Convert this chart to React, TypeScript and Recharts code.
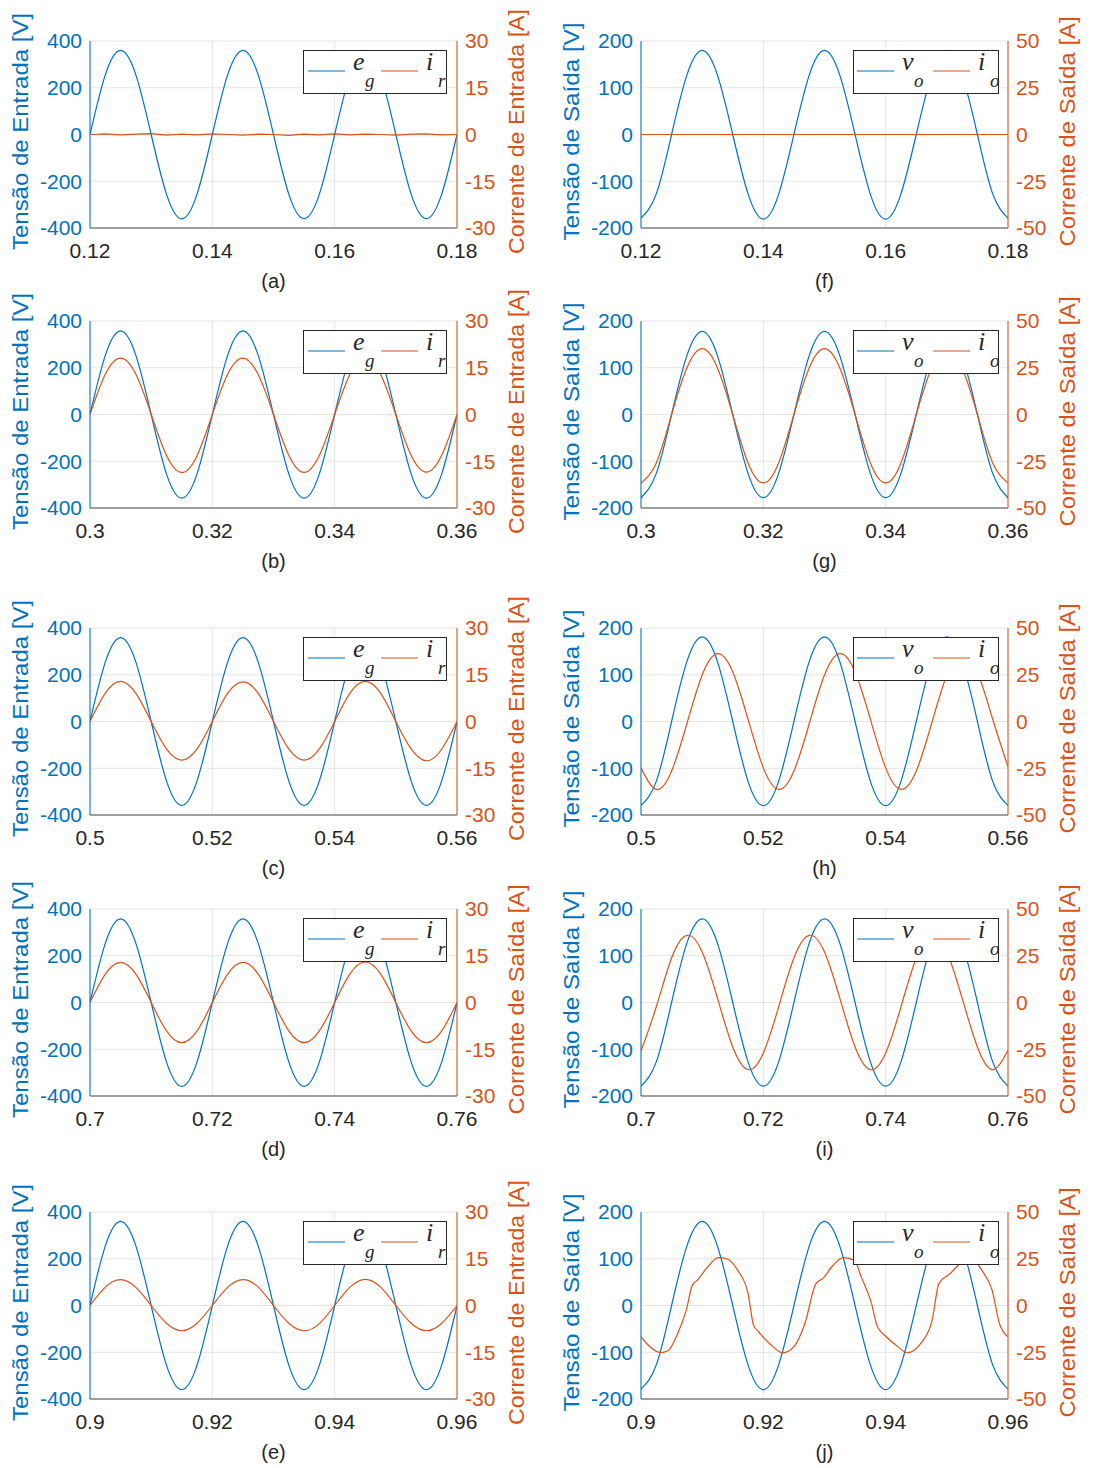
import React from 'react';
import { LineChart, Line, XAxis, YAxis, CartesianGrid, Legend } from 'recharts';

const BLUE = '#0072BD';
const ORANGE = '#D95319';
const INK = '#262626';
const FONT = '"Liberation Sans", Arial, Helvetica, sans-serif';
const SERIF = '"Liberation Serif", "Times New Roman", serif';

// sampling instants inside each 60 ms window (s)
const OFFSETS = [
  0, 0.0025, 0.005, 0.0075, 0.01, 0.0125, 0.015, 0.0175, 0.02, 0.0225, 0.025, 0.0275, 0.03,
  0.0325, 0.035, 0.0375, 0.04, 0.0425, 0.045, 0.0475, 0.05, 0.0525, 0.055, 0.0575, 0.06,
];

const X_TICKS = [
  [0.12, 0.14, 0.16, 0.18],
  [0.3, 0.32, 0.34, 0.36],
  [0.5, 0.52, 0.54, 0.56],
  [0.7, 0.72, 0.74, 0.76],
  [0.9, 0.92, 0.94, 0.96],
];
const IN_V_TICKS = [-400, -200, 0, 200, 400];
const IN_I_TICKS = [-30, -15, 0, 15, 30];
const OUT_V_TICKS = [-200, -100, 0, 100, 200];
const OUT_I_TICKS = [-50, -25, 0, 25, 50];

// input side: grid voltage e_g [V] and rectifier current i_r [A]
const egA = [0, 255, 360, 255, 0, -255, -361, -255, 0, 255, 360, 255, 0, -255, -360, -255, 0, 255, 360, 255, 0, -255, -360, -255, 0];
const irA = [0, 0.2, -0.1, 0.1, 0.3, -0.2, 0.1, -0.1, 0.2, 0, -0.2, 0.1, 0, -0.3, 0.1, -0.1, 0.2, -0.1, 0.1, 0, -0.2, 0.1, 0.2, -0.1, 0];
const egB = [0, 253, 358, 253, 0, -254, -358, -254, 0, 253, 358, 253, 0, -254, -358, -254, 0, 253, 358, 253, 0, -254, -358, -254, 0];
const irB = [0, 12.9, 18.1, 12.9, 0.1, -13.1, -18.6, -13.2, 0, 12.9, 18.1, 12.8, 0, -13.1, -18.6, -13.1, 0, 12.9, 18.2, 12.9, 0, -13.1, -18.5, -13.1, 0];
const egC = [0, 254, 359, 254, 0, -254, -359, -254, 0, 254, 359, 254, 0, -254, -359, -254, 0, 254, 359, 254, 0, -254, -359, -254, 0];
const irC = [0, 9.1, 12.9, 9.0, 0, -8.8, -12.4, -8.8, 0, 9.0, 12.7, 9.0, 0, -8.8, -12.4, -8.8, 0, 9.1, 12.9, 9.1, 0, -8.8, -12.6, -8.9, 0];
const egD = [0, 253, 358, 253, 0, -254, -359, -254, 0, 253, 358, 253, 0, -254, -359, -254, 0, 253, 358, 253, 0, -254, -359, -254, 0];
const irD = [0, 9.1, 12.9, 9.1, 0, -9.1, -12.9, -9.1, 0, 9.1, 12.9, 9.1, 0, -9.1, -12.9, -9.1, 0, 9.2, 13.0, 9.2, 0, -9.1, -12.9, -9.1, 0];
const egE = [0, 255, 360, 255, 0, -255, -360, -255, 0, 255, 360, 255, 0, -255, -360, -255, 0, 255, 360, 255, 0, -255, -360, -255, 0];
const irE = [0, 5.9, 8.3, 5.8, 0, -5.7, -8.1, -5.7, 0, 5.8, 8.3, 5.9, 0, -5.7, -8.1, -5.8, 0, 5.9, 8.4, 5.9, 0, -5.7, -8.1, -5.7, 0];

// output side: load voltage v_o [V] and load current i_o [A]
const voF = [-179, -127, 0, 127, 180, 127, 0, -127, -181, -128, 0, 127, 180, 127, 0, -128, -181, -127, 0, 127, 180, 127, 0, -127, -179];
const ioF = [0, 0, 0, 0, 0, 0, 0, 0, 0, 0, 0, 0, 0, 0, 0, 0, 0, 0, 0, 0, 0, 0, 0, 0, 0];
const voG = [-178, -126, 0, 126, 178, 126, 0, -126, -178, -126, 0, 126, 178, 126, 0, -126, -178, -126, 0, 126, 178, 126, 0, -126, -178];
const ioG = [-36.6, -25.9, 0, 24.9, 35.2, 24.9, 0, -25.9, -36.6, -25.9, 0, 24.9, 35.2, 24.9, 0, -25.9, -36.6, -25.9, 0, 24.9, 35.2, 24.9, 0, -25.9, -36.6];
const voH = [-180, -128, 0, 128, 181, 128, 0, -128, -180, -128, 0, 128, 181, 128, 0, -128, -180, -128, 0, 128, 181, 128, 0, -128, -180];
const ioH = [-24.8, -36.3, -26.5, -1.2, 24.9, 36.3, 26.5, 1.2, -24.8, -36.3, -26.5, -1.2, 24.9, 36.3, 26.5, 1.2, -24.8, -36.3, -26.5, -1.2, 24.9, 36.3, 26.5, 1.2, -24.2];
const voI = [-179, -127, 0, 127, 179, 127, 0, -127, -179, -127, 0, 127, 179, 127, 0, -127, -179, -127, 0, 127, 179, 127, 0, -127, -179];
const ioI = [-26, -2.3, 23.8, 35.9, 27, 2.3, -23.8, -35.9, -27, -2.3, 23.8, 35.9, 27, 2.3, -23.8, -35.9, -27, -2.3, 23.8, 35.9, 27, 2.3, -23.8, -35.9, -25.5];
const voJ = [-179, -127, 0, 127, 180, 127, 0, -127, -180, -127, 0, 127, 180, 127, 0, -127, -180, -127, 0, 127, 180, 127, 0, -127, -179];
// distorted load current, sampled at its own instants
const ioJTime = [
  0.9, 0.9016, 0.9032, 0.9044, 0.906, 0.9074, 0.9084, 0.9092, 0.9107, 0.9127, 0.914, 0.9158, 0.9175,
  0.9184, 0.9192, 0.921, 0.9232, 0.925, 0.9268, 0.9286, 0.9297, 0.9314, 0.9331, 0.9349, 0.936,
  0.9377, 0.9386, 0.9401, 0.942, 0.9435, 0.9458, 0.9476, 0.9487, 0.9505, 0.9528, 0.954, 0.9557,
  0.9574, 0.9586, 0.96,
];
const ioJ = [
  -16.7, -22.5, -25.2, -24.2, -15, -2.5, 10.9, 13.5, 19.8, 25.6, 25, 18.9, 6.4, -10.5, -14, -20.3,
  -25.3, -22, -9.6, 11.7, 14.4, 21.5, 25.6, 24.2, 15.3, 1, -10.9, -16.7, -22, -25.3, -20, -7.8, 11.7,
  17, 24, 25.5, 18.9, 8.2, -9.6, -16.7,
];

const IN_V_TITLE = 'Tensão de Entrada [V]';
const OUT_V_TITLE = 'Tensão de Saída [V]';
const IN_I_TITLE = 'Corrente de Entrada [A]';
const OUT_I_TITLE = 'Corrente de Saída [A]';

type PanelDef = {
  label: string;
  row: number;
  col: number;
  v: number[];
  i: number[];
  iTime?: number[];
  iCurve?: 'natural' | 'linear' | 'monotone';
  vName: string;
  iName: string;
  iTitle: string;
};

const PANELS: PanelDef[] = [
  { label: '(a)', row: 0, col: 0, v: egA, i: irA, iCurve: 'linear', vName: 'e|g', iName: 'i|r', iTitle: IN_I_TITLE },
  { label: '(b)', row: 1, col: 0, v: egB, i: irB, vName: 'e|g', iName: 'i|r', iTitle: IN_I_TITLE },
  { label: '(c)', row: 2, col: 0, v: egC, i: irC, vName: 'e|g', iName: 'i|r', iTitle: IN_I_TITLE },
  { label: '(d)', row: 3, col: 0, v: egD, i: irD, vName: 'e|g', iName: 'i|r', iTitle: OUT_I_TITLE },
  { label: '(e)', row: 4, col: 0, v: egE, i: irE, vName: 'e|g', iName: 'i|r', iTitle: IN_I_TITLE },
  { label: '(f)', row: 0, col: 1, v: voF, i: ioF, iCurve: 'linear', vName: 'v|o', iName: 'i|o', iTitle: OUT_I_TITLE },
  { label: '(g)', row: 1, col: 1, v: voG, i: ioG, vName: 'v|o', iName: 'i|o', iTitle: OUT_I_TITLE },
  { label: '(h)', row: 2, col: 1, v: voH, i: ioH, vName: 'v|o', iName: 'i|o', iTitle: OUT_I_TITLE },
  { label: '(i)', row: 3, col: 1, v: voI, i: ioI, vName: 'v|o', iName: 'i|o', iTitle: OUT_I_TITLE },
  { label: '(j)', row: 4, col: 1, v: voJ, i: ioJ, iTime: ioJTime, iCurve: 'monotone', vName: 'v|o', iName: 'i|o', iTitle: OUT_I_TITLE },
];

// layout of the 5x2 grid of axes
const COL_LEFT = [90, 641];
const ROW_TOP = [41, 321, 628, 909, 1212];
const PLOT_W = 367;
const PLOT_H = 187;
const AXIS_W = 60;
const PAD_TOP = 20;
const X_AXIS_H = 40;

const TITLE_LEN: Record<string, number> = {
  [IN_V_TITLE]: 237,
  [OUT_V_TITLE]: 218,
  [IN_I_TITLE]: 245,
  [OUT_I_TITLE]: 230,
};

const toSeries = (t: number[], v: number[]) => v.map((y, k) => ({ t: t[k], v: y }));

// the legend glyphs sit in an svg that reaches a little above/below the framed box
const GLYPH_PAD = 8;

function LegendBox({ payload, col }: any) {
  const lineX = col === 0 ? [5, 78] : [4, 80];
  const width = col === 0 ? 144 : 146;
  // voltage first, current second
  const items = (payload || [])
    .slice()
    .sort((a: any, b: any) => (a.color === BLUE ? -1 : 0) - (b.color === BLUE ? -1 : 0));
  return (
    <div
      style={{
        position: 'relative',
        width,
        height: 44,
        boxSizing: 'border-box',
        border: `1px solid ${INK}`,
        background: '#fff',
      }}
    >
      <svg
        width={width}
        height={44 + 2 * GLYPH_PAD}
        style={{ position: 'absolute', left: -1, top: -1 - GLYPH_PAD, overflow: 'visible' }}
      >
        {items.map((entry: any, k: number) => {
          const [sym, sub] = String(entry.value).split('|');
          const x0 = lineX[k];
          return (
            <g key={k}>
              <line
                x1={x0}
                x2={x0 + 37}
                y1={GLYPH_PAD + 21}
                y2={GLYPH_PAD + 21}
                stroke={entry.color}
                strokeWidth={1.2}
              />
              <text x={x0 + 45} y={GLYPH_PAD + 20} fontFamily={SERIF} fontStyle="italic" fontSize={26} fill={INK}>
                {sym}
              </text>
              <text x={x0 + 57} y={GLYPH_PAD + 37} fontFamily={SERIF} fontStyle="italic" fontSize={19} fill={INK}>
                {sub}
              </text>
            </g>
          );
        })}
      </svg>
    </div>
  );
}

function Panel({ p }: { p: PanelDef }) {
  const left = COL_LEFT[p.col];
  const top = ROW_TOP[p.row];
  const xt = X_TICKS[p.row];
  const times = OFFSETS.map((o) => xt[0] + o);
  const vTicks = p.col === 0 ? IN_V_TICKS : OUT_V_TICKS;
  const iTicks = p.col === 0 ? IN_I_TICKS : OUT_I_TICKS;
  const vData = toSeries(times, p.v);
  const iData = toSeries(p.iTime || times, p.i);

  return (
    <div style={{ position: 'absolute', left: left - AXIS_W, top: top - PAD_TOP }}>
      <LineChart
        width={PLOT_W + 2 * AXIS_W}
        height={PLOT_H + PAD_TOP + X_AXIS_H}
        margin={{ top: PAD_TOP, right: 0, bottom: 0, left: 0 }}
      >
        <CartesianGrid yAxisId="v" stroke="#e4e4e4" />
        <XAxis
          type="number"
          dataKey="t"
          domain={[xt[0], xt[xt.length - 1]]}
          ticks={xt}
          interval={0}
          allowDataOverflow
          height={X_AXIS_H}
          tickLine={false}
          tickSize={0}
          tickMargin={15}
          stroke="#4d4d4d"
          tick={{ fill: INK, fontSize: 21, fontFamily: FONT }}
          tickFormatter={(x: number) => String(x)}
        />
        <YAxis
          yAxisId="v"
          type="number"
          domain={[vTicks[0], vTicks[vTicks.length - 1]]}
          ticks={vTicks}
          interval={0}
          allowDataOverflow
          width={AXIS_W}
          tickLine={false}
          tickSize={0}
          tickMargin={8}
          stroke={BLUE}
          tick={{ fill: BLUE, fontSize: 21, fontFamily: FONT }}
        />
        <YAxis
          yAxisId="i"
          orientation="right"
          type="number"
          domain={[iTicks[0], iTicks[iTicks.length - 1]]}
          ticks={iTicks}
          interval={0}
          allowDataOverflow
          width={AXIS_W}
          tickLine={false}
          tickSize={0}
          tickMargin={8}
          stroke={ORANGE}
          tick={{ fill: ORANGE, fontSize: 21, fontFamily: FONT }}
        />
        <Line
          yAxisId="v"
          data={vData}
          dataKey="v"
          name={p.vName}
          type="natural"
          stroke={BLUE}
          strokeWidth={1.2}
          dot={false}
          activeDot={false}
          isAnimationActive={false}
        />
        <Line
          yAxisId="i"
          data={iData}
          dataKey="v"
          name={p.iName}
          type={p.iCurve || 'natural'}
          stroke={ORANGE}
          strokeWidth={1.2}
          dot={false}
          activeDot={false}
          isAnimationActive={false}
        />
        <Legend
          layout="horizontal"
          verticalAlign="middle"
          align="center"
          wrapperStyle={{
            left: AXIS_W + (p.col === 0 ? 213 : 212),
            top: PAD_TOP + 9,
            width: p.col === 0 ? 144 : 146,
            height: 44,
          }}
          content={(props: any) => <LegendBox payload={props.payload} col={p.col} />}
        />
      </LineChart>
    </div>
  );
}

export default function App() {
  return (
    <div
      style={{
        position: 'absolute',
        left: 0,
        top: 0,
        width: 1094,
        height: 1468,
        background: '#fff',
        fontFamily: FONT,
      }}
    >
      {PANELS.map((p) => (
        <Panel key={p.label} p={p} />
      ))}
      <svg
        width={1094}
        height={1468}
        style={{ position: 'absolute', left: 0, top: 0, pointerEvents: 'none' }}
      >
        {PANELS.map((p) => {
          const left = COL_LEFT[p.col];
          const cy = ROW_TOP[p.row] + PLOT_H / 2 - 3;
          const vTitle = p.col === 0 ? IN_V_TITLE : OUT_V_TITLE;
          const lx = left - 62;
          const rx = left + PLOT_W + 67;
          return (
            <g key={p.label} fontFamily={FONT}>
              <text
                transform={`translate(${lx},${cy}) rotate(-90)`}
                textAnchor="middle"
                fontSize={22}
                fill={BLUE}
                textLength={TITLE_LEN[vTitle]}
                lengthAdjust="spacingAndGlyphs"
              >
                {vTitle}
              </text>
              <text
                transform={`translate(${rx},${cy}) rotate(-90)`}
                textAnchor="middle"
                fontSize={22}
                fill={ORANGE}
                textLength={TITLE_LEN[p.iTitle]}
                lengthAdjust="spacingAndGlyphs"
              >
                {p.iTitle}
              </text>
              <text
                x={left + PLOT_W / 2}
                y={ROW_TOP[p.row] + PLOT_H + 60}
                textAnchor="middle"
                fontSize={20}
                fill={INK}
              >
                {p.label}
              </text>
            </g>
          );
        })}
      </svg>
    </div>
  );
}
